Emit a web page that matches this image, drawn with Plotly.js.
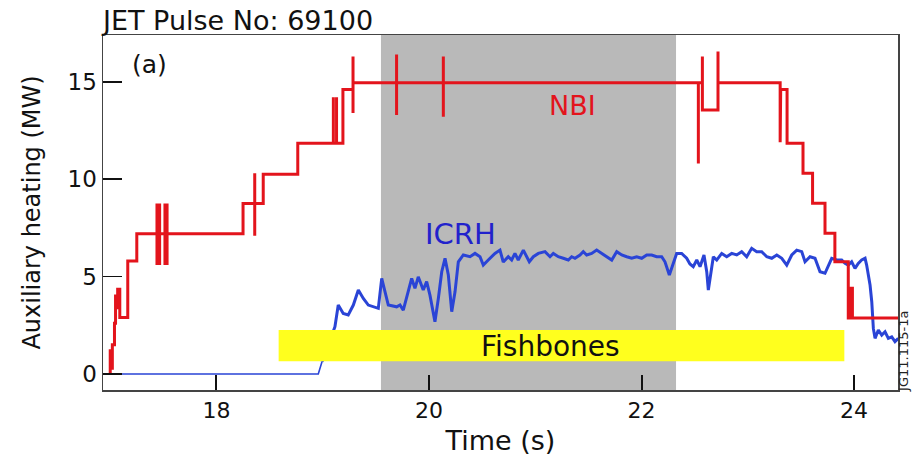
<!DOCTYPE html>
<html>
<head>
<meta charset="utf-8">
<script src="https://cdn.plot.ly/plotly-3.0.1.min.js"></script>
<style>html,body{margin:0;padding:0;background:#fff;}#chart{width:914px;height:456px;}</style>
</head>
<body>
<div id="chart"></div>
<script>
// ---- data ----
const nbiTime = [17.000,17.000,17.010,17.010,17.020,17.020,17.040,17.040,17.050,17.050,17.060,17.060,17.070,17.070,17.090,17.090,17.165,17.165,17.250,17.250,
  17.440,17.440,17.440,17.440,17.465,17.465,17.465,17.465,17.515,17.515,17.515,17.515,17.535,17.535,17.535,17.535,
  18.250,18.250,18.360,18.360,18.360,18.360,18.440,18.440,18.765,18.765,
  19.100,19.100,19.100,19.130,19.130,19.130,19.190,19.190,19.285,19.285,19.285,19.285,
  19.695,19.695,19.695,19.695,20.135,20.135,20.135,20.135,
  22.535,22.535,22.535,22.573,22.573,22.573,22.720,22.720,22.720,
  23.305,23.305,23.310,23.370,23.370,23.520,23.520,23.610,23.610,23.727,23.727,23.820,23.820,
  23.946,23.946,23.965,23.965,23.985,23.985,24.420];
const nbiPower = [0,1.2,1.2,0.3,0.3,1.5,1.5,2.6,2.6,4.0,4.0,3.4,3.4,4.35,4.35,2.9,2.9,5.8,5.8,7.2,
  7.2,8.75,5.6,7.2,7.2,8.75,5.6,7.2,7.2,8.75,5.6,7.2,7.2,8.75,5.6,7.2,
  7.2,8.75,8.75,10.3,7.1,8.75,8.75,10.25,10.25,11.85,
  11.85,14.2,11.85,11.85,14.2,11.85,11.85,14.6,14.6,16.3,13.4,14.95,
  14.95,16.4,13.3,14.95,14.95,16.3,13.2,14.95,
  14.95,10.8,14.95,14.95,16.3,13.55,13.55,16.55,14.95,
  14.95,11.9,14.6,14.6,11.85,11.85,10.3,10.3,8.76,8.76,7.22,7.22,5.76,
  5.76,2.87,2.87,4.4,4.4,2.87,2.87];

const icrhTime = [16.950,18.958,18.993,19.115,19.146,19.193,19.240,19.288,19.335,19.382,19.429,19.492,19.523,19.555,19.586,19.617,
  19.696,19.727,19.758,19.805,19.837,19.868,19.899,19.946,19.978,20.009,20.056,20.088,20.120,20.151,20.182,20.214,20.245,20.276,
  20.323,20.386,20.433,20.480,20.511,20.558,20.621,20.668,20.699,20.746,20.778,20.809,20.840,20.888,20.920,20.944,20.982,
  21.029,21.092,21.139,21.170,21.217,21.264,21.311,21.343,21.374,21.421,21.452,21.484,21.531,21.578,21.625,21.673,21.720,
  21.767,21.814,21.861,21.908,21.955,22.002,22.049,22.096,22.143,22.190,22.221,22.262,22.294,22.331,22.378,22.425,22.456,
  22.487,22.520,22.551,22.588,22.614,22.629,22.651,22.676,22.708,22.755,22.802,22.849,22.896,22.943,22.990,23.037,23.084,
  23.131,23.179,23.226,23.273,23.320,23.367,23.414,23.461,23.508,23.539,23.586,23.633,23.680,23.727,23.758,23.790,23.837,
  23.884,23.915,23.946,23.978,24.009,24.040,24.072,24.104,24.119,24.151,24.167,24.182,24.198,24.229,24.261,24.292,24.323,
  24.355,24.386,24.417];
const icrhPower = [0,0,0.63,2.43,3.54,3.11,3.03,3.54,4.31,3.88,3.54,3.45,3.37,4.91,4.22,3.54,
  3.45,3.54,3.28,4.22,4.91,4.40,4.99,4.31,4.74,4.05,2.68,3.88,5.25,5.94,5.08,3.20,4.22,5.76,
  6.11,6.02,6.19,6.02,5.59,5.85,6.19,6.36,5.75,6.02,5.85,6.19,5.85,6.36,6.02,5.76,6.02,
  6.19,6.28,6.02,6.19,6.02,5.94,5.85,6.02,5.94,6.11,6.28,6.11,6.19,6.36,6.19,6.02,5.85,
  6.28,6.11,6.02,5.94,6.02,5.94,6.11,6.11,6.02,6.02,5.76,5.08,5.59,6.19,6.19,5.94,5.65,
  5.51,5.85,5.51,6.11,5.25,4.31,5.08,6.02,5.85,6.19,6.02,6.19,6.11,6.28,6.02,6.45,6.28,
  6.28,6.02,5.94,6.11,5.94,5.59,6.11,6.36,6.28,5.76,6.02,5.94,5.25,5.17,5.59,5.94,5.85,
  5.85,5.68,5.59,5.76,5.42,5.68,5.85,5.94,5.59,4.57,3.71,2.34,1.83,2.26,2.00,2.17,1.83,
  1.91,1.66,1.83];

const shadeRange = [19.548, 22.325];        // grey shaded time window (s)
const fishbonesRange = [18.585, 23.909];    // fishbones time window (s)
const fishbonesBand = [0.65, 2.26];         // vertical extent of the band (MW)

const xTickVals = [18, 20, 22, 24];
const xTickText = ['18', '20', '22', '24'];
const yTickVals = [0, 5, 10, 15];
const yTickText = ['0', '5', '10', '15'];

// ---- chart ----
const FONT = 'DejaVu Sans';
const idle = 2; // ICRH points on the zero baseline (drawn thin)
const traces = [
  {x: icrhTime.slice(0, idle + 1), y: icrhPower.slice(0, idle + 1), type: 'scatter', mode: 'lines', name: 'ICRH',
   line: {color: '#2a44d6', width: 1.6}, hoverinfo: 'skip'},
  {x: icrhTime.slice(idle), y: icrhPower.slice(idle), type: 'scatter', mode: 'lines', name: 'ICRH',
   line: {color: '#2a44d6', width: 3}, hoverinfo: 'skip'},
  {x: nbiTime, y: nbiPower, type: 'scatter', mode: 'lines', name: 'NBI',
   line: {color: '#e3141c', width: 3}, hoverinfo: 'skip'}
];

const layout = {
  width: 914, height: 456,
  margin: {l: 103, r: 16, t: 35, b: 66},
  paper_bgcolor: '#ffffff', plot_bgcolor: '#ffffff',
  showlegend: false,
  font: {family: FONT, color: '#111'},
  title: {text: 'JET Pulse No: 69100', x: 0, xref: 'paper', xanchor: 'left',
          y: 0.955, yref: 'container', yanchor: 'middle',
          font: {family: FONT, size: 27, color: '#111'}},
  xaxis: {range: [16.932, 24.414], tickmode: 'array', tickvals: xTickVals, ticktext: xTickText,
          ticks: 'inside', ticklen: 15, tickwidth: 2, tickcolor: '#111',
          showline: true, mirror: true, linecolor: '#444', linewidth: 1.5,
          showgrid: false, zeroline: false,
          tickfont: {family: FONT, size: 22, color: '#111'},
          title: {text: 'Time (s)', font: {family: FONT, size: 27, color: '#111'}}},
  yaxis: {range: [-0.82, 17.40], tickmode: 'array', tickvals: yTickVals, ticktext: yTickText,
          ticks: 'inside', ticklen: 19, tickwidth: 1.5, tickcolor: '#111',
          showline: true, mirror: true, linecolor: '#444', linewidth: 1.5,
          showgrid: false, zeroline: false,
          tickfont: {family: FONT, size: 23, color: '#111'},
          title: {text: 'Auxiliary heating (MW)', standoff: 20,
                  font: {family: FONT, size: 24, color: '#111'}}},
  shapes: [
    {type: 'rect', xref: 'x', yref: 'paper', x0: shadeRange[0], x1: shadeRange[1], y0: 0, y1: 1,
     fillcolor: '#b9b9b9', line: {width: 0}, layer: 'below'},
    {type: 'rect', xref: 'x', yref: 'y', x0: fishbonesRange[0], x1: fishbonesRange[1],
     y0: fishbonesBand[0], y1: fishbonesBand[1], fillcolor: '#ffff1e', line: {width: 0}, layer: 'above'}
  ],
  annotations: [
    {text: '(a)', x: 17.374, y: 15.9, xref: 'x', yref: 'y', showarrow: false,
     font: {family: FONT, size: 25, color: '#111'}},
    {text: 'NBI', x: 21.346, y: 13.8, xref: 'x', yref: 'y', showarrow: false,
     font: {family: FONT, size: 27, color: '#e3141c'}},
    {text: 'ICRH', x: 20.292, y: 7.18, xref: 'x', yref: 'y', showarrow: false,
     font: {family: FONT, size: 29, color: '#2222cc'}},
    {text: 'Fishbones', x: 21.148, y: 1.42, xref: 'x', yref: 'y', showarrow: false,
     font: {family: FONT, size: 28, color: '#111'}},
    {text: 'JG11.115-1a', x: 1.0075, y: 0.11, xref: 'paper', yref: 'paper', showarrow: false,
     xanchor: 'center', yanchor: 'middle', textangle: -90,
     font: {family: FONT, size: 13, color: '#222'}}
  ]
};

Plotly.newPlot('chart', traces, layout, {staticPlot: true, displayModeBar: false});
</script>
</body>
</html>
